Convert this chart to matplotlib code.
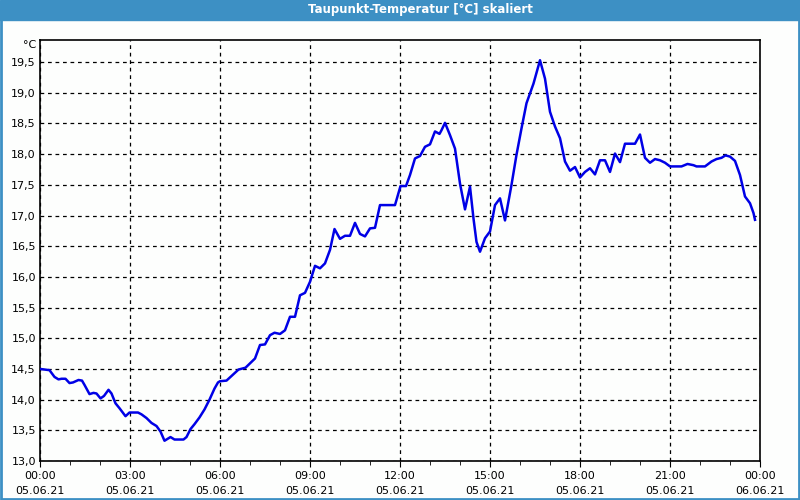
# Taupunkt-Temperatur, 05.06.21

import matplotlib
matplotlib.use('Agg')
from matplotlib import pyplot as plt
from matplotlib.patches import Rectangle
from matplotlib.ticker import MultipleLocator

title = 'Taupunkt-Temperatur [°C] skaliert'
unit = '°C'

# minutes since 05.06.21 00:00
minutes = [0, 19, 29, 37, 43, 51, 59, 66, 77, 84, 89, 99, 107, 113, 121, 128,
           137, 143, 151, 159, 171, 179, 196, 203, 213, 223, 233, 241, 249,
           261, 269, 287, 293, 301, 309, 319, 329, 339, 349, 356, 360, 373,
           397, 411, 430, 440, 450, 460, 469, 480, 490, 500, 510, 520, 530,
           540, 550, 560, 570, 580, 589, 600, 610, 620, 630, 640, 650, 660,
           670, 680, 710, 721, 732, 740, 750, 760, 770, 780, 790, 799, 803,
           810, 820, 830, 840, 850, 860, 867, 873, 880, 890, 900, 910, 920,
           930, 943, 953, 963, 973, 987, 1000, 1010, 1020, 1030, 1040, 1050,
           1060, 1070, 1080, 1090, 1100, 1110, 1120, 1130, 1140, 1150, 1160,
           1170, 1190, 1200, 1210, 1220, 1230, 1240, 1250, 1260, 1283, 1295,
           1307, 1313, 1330, 1343, 1353, 1363, 1371, 1380, 1390, 1400, 1410,
           1420, 1427, 1430]
dewpoint = [14.50, 14.48, 14.37, 14.33, 14.34, 14.34, 14.27, 14.28, 14.32,
            14.31, 14.24, 14.09, 14.11, 14.10, 14.02, 14.06, 14.16, 14.10,
            13.94, 13.86, 13.73, 13.79, 13.79, 13.76, 13.70, 13.62, 13.57,
            13.48, 13.33, 13.39, 13.35, 13.35, 13.39, 13.52, 13.60, 13.71,
            13.84, 14.00, 14.18, 14.28, 14.30, 14.31, 14.49, 14.52, 14.67,
            14.89, 14.90, 15.05, 15.09, 15.07, 15.13, 15.35, 15.35, 15.70,
            15.74, 15.92, 16.18, 16.14, 16.22, 16.44, 16.78, 16.62, 16.67,
            16.67, 16.88, 16.70, 16.66, 16.79, 16.80, 17.17, 17.17, 17.48,
            17.48, 17.66, 17.93, 17.97, 18.12, 18.16, 18.37, 18.33, 18.39,
            18.51, 18.31, 18.09, 17.52, 17.10, 17.47, 16.95, 16.57, 16.41,
            16.63, 16.74, 17.17, 17.28, 16.92, 17.50, 17.99, 18.42, 18.83,
            19.15, 19.53, 19.23, 18.69, 18.45, 18.26, 17.88, 17.73, 17.79,
            17.62, 17.71, 17.77, 17.67, 17.90, 17.90, 17.71, 18.01, 17.87,
            18.17, 18.17, 18.32, 17.94, 17.86, 17.92, 17.90, 17.86, 17.80,
            17.80, 17.84, 17.82, 17.80, 17.80, 17.88, 17.92, 17.94, 17.98,
            17.96, 17.89, 17.66, 17.31, 17.20, 17.04, 16.93]

tick_hours = [0, 3, 6, 9, 12, 15, 18, 21, 24]
tick_labels = ['00:00\n05.06.21', '03:00\n05.06.21', '06:00\n05.06.21',
               '09:00\n05.06.21', '12:00\n05.06.21', '15:00\n05.06.21',
               '18:00\n05.06.21', '21:00\n05.06.21', '00:00\n06.06.21']
y_ticks = [13.0, 13.5, 14.0, 14.5, 15.0, 15.5, 16.0, 16.5, 17.0, 17.5,
           18.0, 18.5, 19.0, 19.5]

frame_blue = '#3d90c4'

fig = plt.figure(figsize=(8, 5), dpi=100, facecolor='#fdfefd')

# title bar and window frame
fig.patches.append(Rectangle((0, 0.96), 1, 0.04, transform=fig.transFigure,
                             color=frame_blue, zorder=0))
fig.patches.append(Rectangle((0.001, 0.002), 0.9975, 0.96, transform=fig.transFigure,
                             fill=False, edgecolor=frame_blue, lw=2, zorder=0))
fig.text(0.525, 0.98, title, color='white', fontsize=8.5, fontweight='bold',
         ha='center', va='center')

ax = fig.add_axes([0.05, 0.078, 0.90, 0.842])
ax.set_facecolor('#fdfefd')

hours = [m / 60 for m in minutes]
ax.plot(hours, dewpoint, color='#0000e6', lw=1.8, zorder=3)

ax.set_xlim(0, 24)
ax.set_ylim(13.0, 19.86)
ax.set_xticks(tick_hours)
ax.set_xticklabels(tick_labels, fontsize=8, linespacing=1.7)
ax.xaxis.set_minor_locator(MultipleLocator(1))
ax.set_yticks(y_ticks)
ax.set_yticklabels([f'{v:.1f}'.replace('.', ',') for v in y_ticks], fontsize=8)

ax.tick_params(axis='x', which='major', direction='out', length=4, pad=3)
ax.tick_params(axis='x', which='minor', direction='out', length=3)
ax.tick_params(axis='y', length=0, pad=3)

ax.grid(True, color='black', linestyle=(0, (3, 3)), lw=0.9)
for s in ax.spines.values():
    s.set_color('black')
    s.set_linewidth(1.2)

ax.text(-0.005, 1.0, unit, transform=ax.transAxes, fontsize=8,
        ha='right', va='top')

fig.savefig('out.png', dpi=100, facecolor=fig.get_facecolor())
